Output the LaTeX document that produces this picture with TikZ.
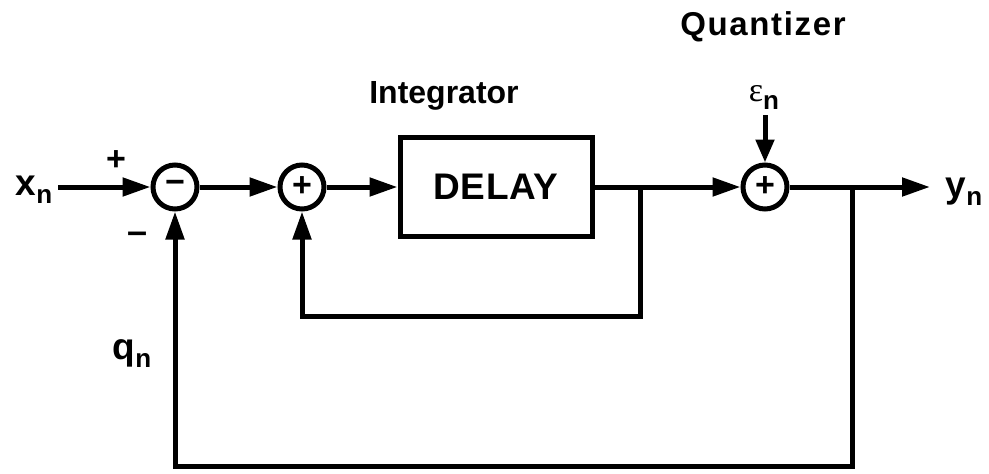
\documentclass[tikz,border=0pt]{standalone}
\usepackage{fontspec}
\setmainfont{Liberation Sans}
\newfontfamily\serifgr{Liberation Serif}
\usetikzlibrary{arrows.meta}
\newcommand{\sublab}[2]{{\fontsize{37}{37}\selectfont #1}\raisebox{-8pt}{\fontsize{26}{26}\selectfont #2}}
\begin{document}
\begin{tikzpicture}[x=1pt,y=-1pt,
  line width=5pt,
  sumnode/.style={circle,draw,minimum size=44pt,inner sep=0pt,font=\fontsize{34}{34}\selectfont\bfseries},
  blockbox/.style={draw,minimum width=192pt,minimum height=99pt,inner sep=0pt,font=\fontsize{37}{37}\selectfont\bfseries\addfontfeature{LetterSpace=2}},
  sig/.style={-{Triangle[length=28pt,width=18pt]}},
  sigshort/.style={-{Triangle[length=23pt,width=18pt]}},
  lbl/.style={inner sep=0pt,font=\bfseries},
  title/.style={inner sep=0pt,font=\fontsize{32}{32}\selectfont\bfseries}
]
\useasboundingbox (0,0) rectangle (989,474);

\node[sumnode] (c1) at (175,187) {−};
\node[sumnode] (c2) at (302,187) {+};
\node[blockbox] (d) at (496,187) {DELAY};
\node[sumnode] (c3) at (765,187) {+};

\node[lbl] (xn) at (34,190) {\sublab{x}{n}};
\node[lbl] (yn) at (964,192) {\sublab{y}{n}};
\node[lbl] (qn) at (132,354) {\sublab{q}{n}};
\node[inner sep=0pt] (eps) at (764,97) {{\serifgr\fontsize{34}{34}\selectfont ε}\raisebox{-8pt}{\bfseries\fontsize{26}{26}\selectfont n}};
\node[title] (int) at (444,96) {Integrator};
\node[title,font=\fontsize{33}{33}\selectfont\bfseries] (quant) at (763,27) {\addfontfeature{LetterSpace=5}Quantizer};
\node[lbl,font=\fontsize{34}{34}\selectfont\bfseries] (plus) at (116,161) {+};
\node[lbl,font=\fontsize{36}{36}\selectfont\bfseries] (minus) at (138,238) {–};

\coordinate (xin) at (58,187);
\coordinate (b1) at (640,187);
\coordinate (b1d) at (640,316);
\coordinate (b2) at (852,187);
\coordinate (b2d) at (852,466);
\coordinate (yout) at (930,187);
\coordinate (etop) at (765,115);

\draw[sig] (xin) -- (c1);
\draw[sig] (c1) -- (c2);
\draw[sig] (c2) -- (d);
\draw[sig] (d) -- (c3);
\draw[sig] (c3) -- (yout);
\draw[sigshort] (etop) -- (c3);
\draw[sig] (b1) -- (b1d) -| (c2);
\draw[sig] (b2) -- (b2d) -| (c1);
\end{tikzpicture}
\end{document}
